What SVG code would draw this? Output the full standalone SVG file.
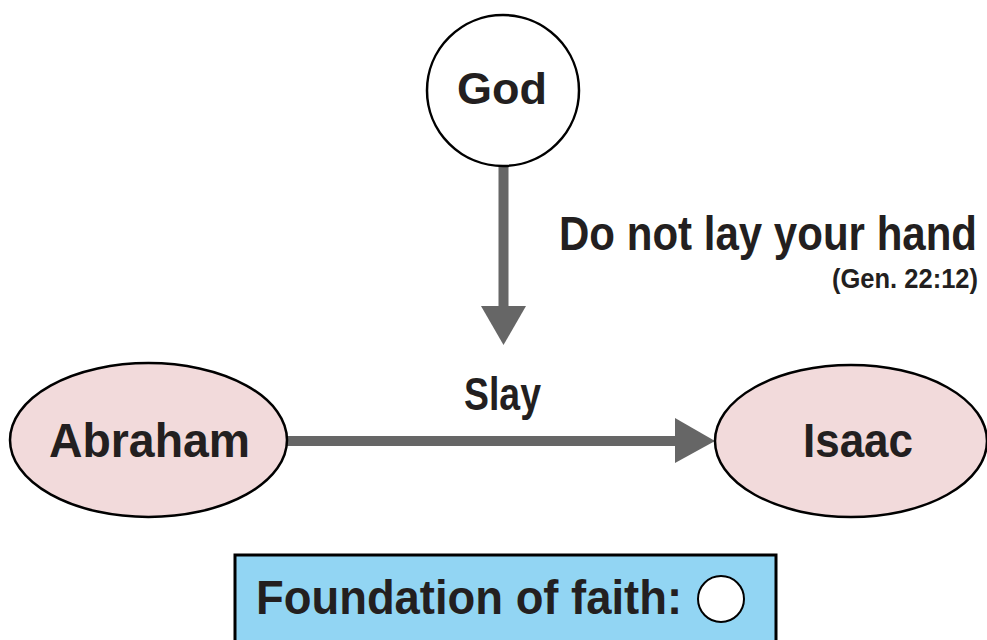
<svg xmlns="http://www.w3.org/2000/svg" width="987" height="640" viewBox="0 0 987 640">
  <style>
    .t { font-family: "Liberation Sans", Arial, sans-serif; font-weight: bold; fill: #231f20; }
    .node { stroke: #000; stroke-width: 2.5; }
    .pink { fill: #f2dadb; }
    .conn { stroke: #666; stroke-width: 10; fill: none; }
    .head { fill: #666; }
  </style>
  <rect width="987" height="640" fill="#fff"/>
  <g id="connectors">
    <line class="conn" x1="503.5" y1="166" x2="503.5" y2="308"/>
    <polygon class="head" points="481,306 526,306 503.5,345"/>
    <line class="conn" x1="287" y1="441" x2="677" y2="441"/>
    <polygon class="head" points="675,418 675,463 715,441"/>
    <text class="t" x="464" y="410" font-size="47" textLength="77" lengthAdjust="spacingAndGlyphs">Slay</text>
    <text class="t" transform="translate(559,250) scale(0.876,1)" x="0" y="0" font-size="48">Do not lay your hand</text>
    <text class="t" x="832" y="288" font-size="27" textLength="146" lengthAdjust="spacingAndGlyphs">(Gen. 22:12)</text>
  </g>
  <g id="god">
    <ellipse class="node" cx="503" cy="90.5" rx="76" ry="75.5" fill="#fff"/>
    <text class="t" x="457" y="104" font-size="45" textLength="90" lengthAdjust="spacingAndGlyphs">God</text>
  </g>
  <g id="abraham">
    <ellipse class="node pink" cx="148.5" cy="440" rx="138.5" ry="77"/>
    <text class="t" x="49" y="457" font-size="48" textLength="201" lengthAdjust="spacingAndGlyphs">Abraham</text>
  </g>
  <g id="isaac">
    <ellipse class="node pink" cx="851" cy="441" rx="136" ry="76"/>
    <text class="t" x="803" y="457" font-size="48" textLength="110" lengthAdjust="spacingAndGlyphs">Isaac</text>
  </g>
  <g id="foundation">
    <rect x="235" y="555" width="541" height="100" fill="#92d5f3" stroke="#000" stroke-width="3"/>
    <text class="t" x="256" y="614" font-size="48" textLength="426" lengthAdjust="spacingAndGlyphs">Foundation of faith:</text>
    <circle cx="721" cy="599" r="23" fill="#fff" stroke="#000" stroke-width="2"/>
  </g>
</svg>
